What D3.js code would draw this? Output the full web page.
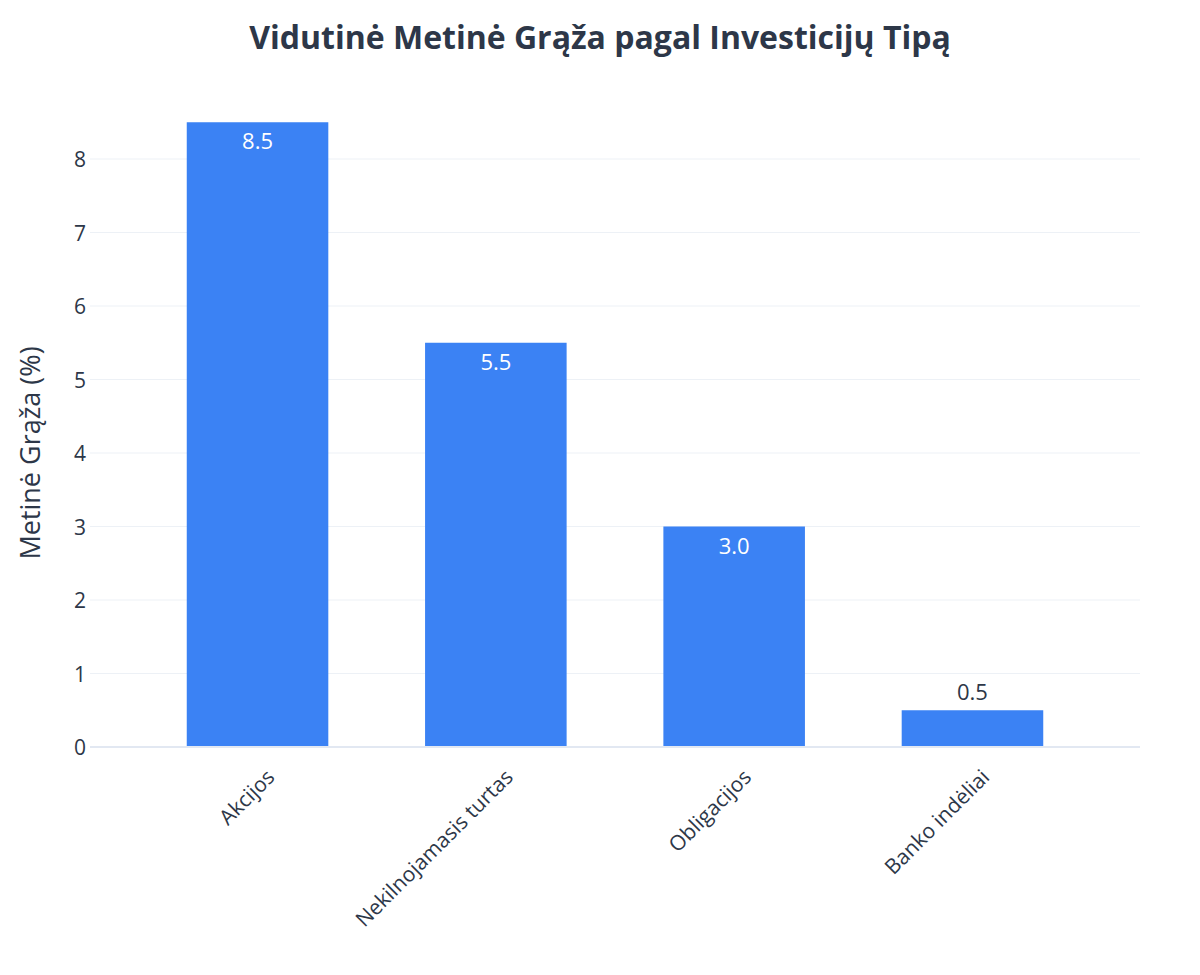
<!DOCTYPE html>
<html><head><meta charset="utf-8">
<script src="https://cdn.jsdelivr.net/npm/d3@7"></script>
<style>body{margin:0;background:#fff;font-family:"Open Sans","Liberation Sans",Arial,sans-serif;}</style>
</head><body>
<script>
// chart data
let categories = ["Akcijos", "Nekilnojamasis turtas", "Obligacijos", "Banko indėliai"];
let returns = [8.5, 5.5, 3.0, 0.5];
let yTicks = [0, 1, 2, 3, 4, 5, 6, 7, 8];

let W = 1200, H = 975;
let svg = d3.select("body").append("svg").attr("width", W).attr("height", H);

let x = d3.scaleBand().domain(categories).range([90, 1140]).padding(0.406);
let y = d3.scaleLinear().domain([0, 8]).range([747, 159]);

// grid lines
svg.append("g").selectAll("line").data(yTicks.filter(d => d > 0)).enter().append("line")
    .attr("x1", 90).attr("x2", 1140)
    .attr("y1", d => y(d)).attr("y2", d => y(d))
    .attr("stroke", "#edf1f6").attr("stroke-width", 1);

// bars
svg.selectAll(".bar").data(returns).enter().append("rect")
    .attr("class", "bar")
    .attr("x", (d, i) => x(categories[i]))
    .attr("width", x.bandwidth())
    .attr("y", d => y(d))
    .attr("height", d => y(0) - y(d))
    .attr("fill", "#3b82f4");

// zero line
svg.append("line").attr("x1", 90).attr("x2", 1140)
    .attr("y1", y(0)).attr("y2", y(0))
    .attr("stroke", "#e2e8f2").attr("stroke-width", 2);

// value labels
svg.selectAll(".val").data(returns).enter().append("text")
    .attr("x", (d, i) => x(categories[i]) + x.bandwidth() / 2)
    .attr("y", d => d > 1 ? y(d) + 27 : y(d) - 10)
    .attr("text-anchor", "middle")
    .attr("font-size", 22)
    .attr("fill", d => d > 1 ? "#ffffff" : "#2d3748")
    .text(d => d.toFixed(1));

// y ticks
svg.append("g").selectAll("text").data(yTicks).enter().append("text")
    .attr("x", 86).attr("y", d => y(d) + 8)
    .attr("text-anchor", "end").attr("font-size", 21).attr("fill", "#2d3748")
    .text(d => d);

// x labels
svg.append("g").selectAll("text").data(categories).enter().append("text")
    .attr("transform", d => "translate(" + (x(d) + x.bandwidth() / 2 + 8) + ",768) rotate(-45)")
    .attr("text-anchor", "end").attr("dy", "0.7em").attr("font-size", 21).attr("fill", "#2d3748")
    .text(d => d);

// y axis title
svg.append("text")
    .attr("transform", "translate(40," + y(4) + ") rotate(-90)")
    .attr("text-anchor", "middle").attr("font-size", 27).attr("fill", "#2d3748")
    .text("Metinė Grąža (%)");

// title
svg.append("text")
    .attr("x", 600).attr("y", 49)
    .attr("text-anchor", "middle").attr("font-size", 32).attr("font-weight", "bold").attr("fill", "#2d3748")
    .text("Vidutinė Metinė Grąža pagal Investicijų Tipą");
</script>
</body></html>
